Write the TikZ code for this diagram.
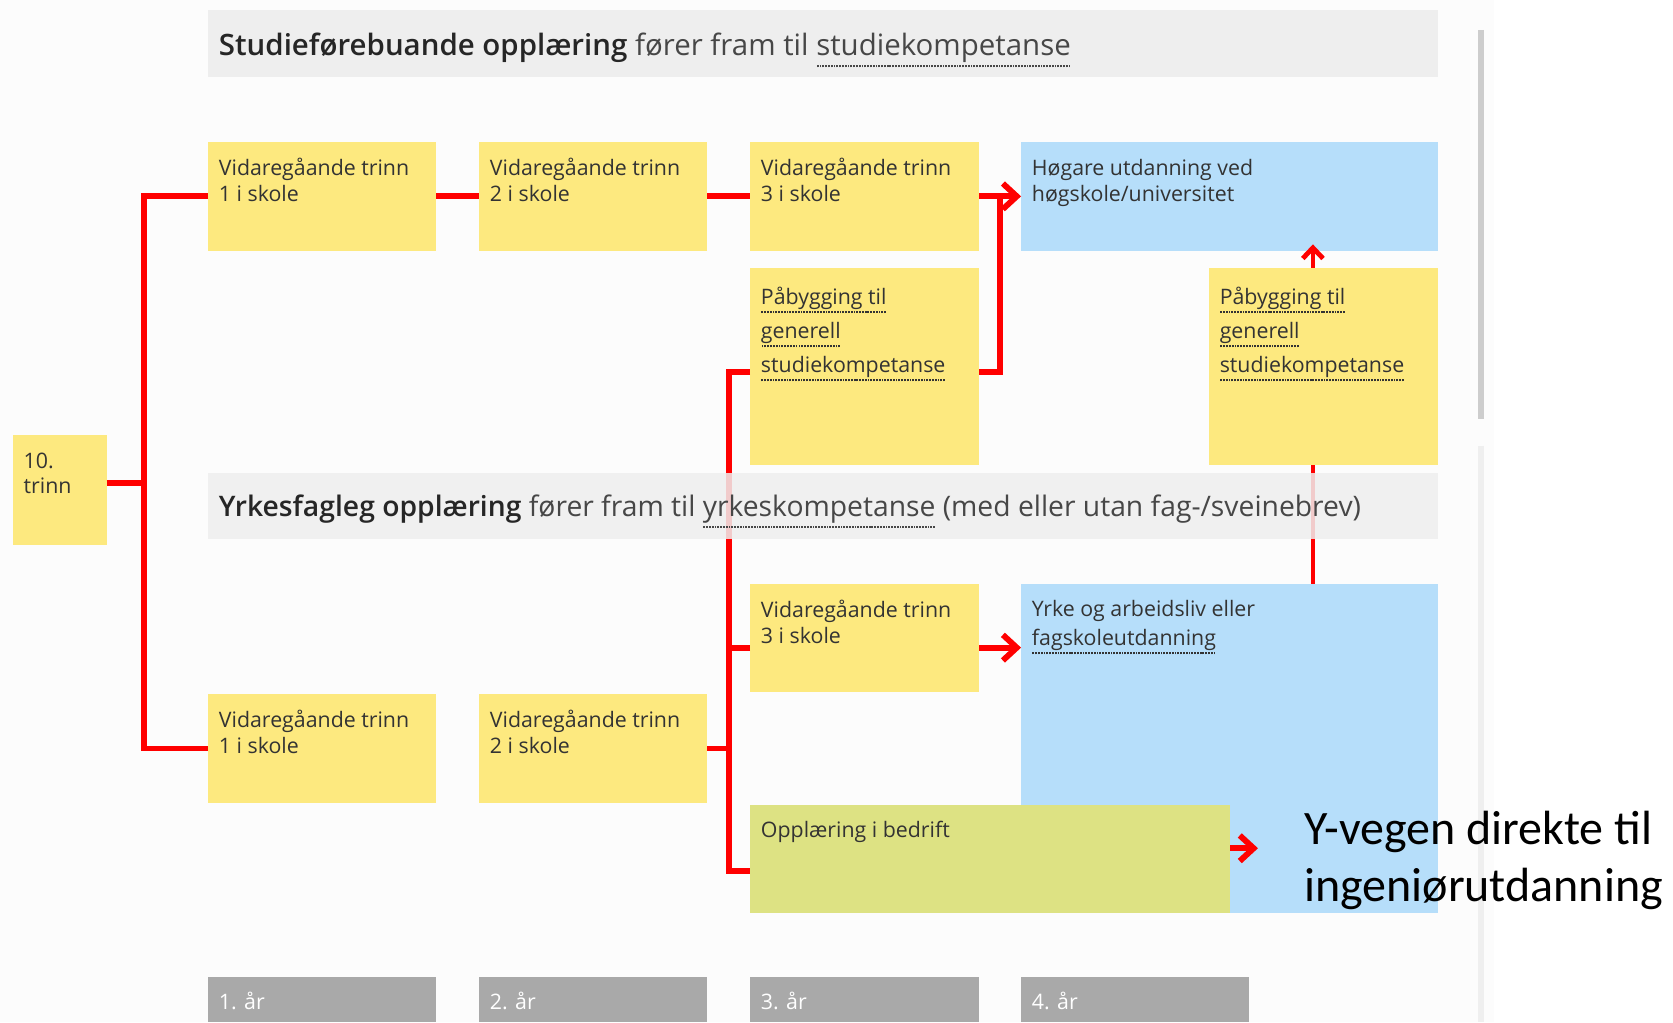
\documentclass[tikz,border=0pt]{standalone}
\usepackage{fontspec}
\setmainfont{Open Sans}
\newfontfamily\calfont{Carlito}
\IfFontExistsTF{Open Sans SemiBold}{\newfontfamily\semib{Open Sans SemiBold}}{%
  \IfFontExistsTF{Open Sans Semibold}{\newfontfamily\semib{Open Sans Semibold}}{\newcommand\semib{\bfseries}}}
\usetikzlibrary{arrows.meta}
\definecolor{ylw}{HTML}{FDE97F}
\definecolor{blu}{HTML}{B6DEFA}
\definecolor{grn}{HTML}{DDE283}
\definecolor{hdrA}{HTML}{EEEEEE}
\definecolor{hdrB}{HTML}{EFEFEF}
\definecolor{barc}{HTML}{A9A9A9}
\definecolor{txt}{HTML}{333333}
\definecolor{redl}{HTML}{FF0000}
\definecolor{sideA}{HTML}{CDCDCD}
\definecolor{sideB}{HTML}{EFEFEF}
\definecolor{bgc}{HTML}{FCFCFC}
\newsavebox\dulbox
\newcommand\dul[1]{\sbox\dulbox{#1}\rlap{\raisebox{-0.4em}{\hbox to \wd\dulbox{\xleaders\hbox to 2.6pt{\hss\rule{1.7pt}{1.9pt}\hss}\hfill}}}\usebox\dulbox}
\tikzset{
  box/.style={anchor=north west, inner sep=0pt, outer sep=0pt, draw=none},
  conn/.style={draw=redl, line width=5.5pt},
  tip/.style={-{Straight Barb[length=13pt,width=24pt]}},
  smalltip/.style={-{Straight Barb[length=10pt,width=19pt]}},
  btxt/.style={anchor=north west, inner sep=0pt, align=left, text=txt, font=\fontsize{20}{24.5}\selectfont},
  ptxt/.style={btxt, font=\fontsize{20}{32}\selectfont},
  yrtxt/.style={anchor=base west, inner sep=0pt, text=white, font=\fontsize{20}{24}\selectfont},
  htxt/.style={anchor=base west, inner sep=0pt, text=txt!90!white, font=\fontsize{27.6}{34}\selectfont},
}
\begin{document}
\begin{tikzpicture}[x=1pt,y=-1pt]
\useasboundingbox (0,0) rectangle (1568,958);
\fill[white] (0,0) rectangle (1568,958);
\fill[bgc] (0,0) rectangle (1400,958);
% side lines
\draw[sideA, line width=5.5pt] (1388,28) -- (1388,393);
\draw[sideB, line width=5.5pt] (1388,418) -- (1388,958);
% header 1
\node[box, fill=hdrA, minimum width=1153pt, minimum height=63pt] (head1) at (195,9) {};
% boxes
\node[box, fill=ylw, minimum width=88pt, minimum height=103pt] (ten) at (12,408) {};
\node[box, fill=ylw, minimum width=214pt, minimum height=102pt] (a1) at (195,133) {};
\node[box, fill=ylw, minimum width=214pt, minimum height=102pt] (a2) at (449,133) {};
\node[box, fill=ylw, minimum width=215pt, minimum height=102pt] (a3) at (703,133) {};
\node[box, fill=blu, minimum width=391pt, minimum height=102pt] (hh) at (957,133) {};
\node[box, fill=ylw, minimum width=215pt, minimum height=185pt] (p1) at (703,251) {};
\node[box, fill=ylw, minimum width=215pt, minimum height=185pt] (p2) at (1133,251) {};
\node[box, fill=ylw, minimum width=215pt, minimum height=102pt] (b3) at (703,547) {};
\node[box, fill=blu, minimum width=391pt, minimum height=309pt] (yy) at (957,547) {};
\node[box, fill=ylw, minimum width=214pt, minimum height=103pt] (b1) at (195,650) {};
\node[box, fill=ylw, minimum width=214pt, minimum height=103pt] (b2) at (449,650) {};
\node[box, fill=grn, minimum width=450pt, minimum height=102pt] (oo) at (703,754) {};
\node[box, fill=barc, minimum width=214pt, minimum height=42pt] (yr1) at (195,916) {};
\node[box, fill=barc, minimum width=214pt, minimum height=42pt] (yr2) at (449,916) {};
\node[box, fill=barc, minimum width=215pt, minimum height=42pt] (yr3) at (703,916) {};
\node[box, fill=barc, minimum width=214pt, minimum height=42pt] (yr4) at (957,916) {};
% connectors
\coordinate (trunk) at (135,453);
\draw[conn] ([yshift=6.5pt]ten.east) -- (trunk);
\draw[conn] (a1.west) -| (trunk) |- (b1.west);
\draw[conn] (a1.east) -- (a2.west);
\draw[conn] (a2.east) -- (a3.west);
\draw[conn,tip] (a3.east) -- (hh.west);
\coordinate (j1) at (937,184);
\draw[conn] ([yshift=-5.5pt]p1.east) -| (j1);
\coordinate (t2a) at (683,349);
\coordinate (t2b) at (683,816);
\draw[conn] ([yshift=-5.5pt]p1.west) -- (t2a) -- (t2b) -- ([yshift=-11pt]oo.west);
\draw[conn] (b2.east) -- (b2.east -| t2a);
\coordinate (b3l) at ([yshift=-9pt]b3.west);
\draw[conn] (b3l) -- (b3l -| t2a);
\coordinate (b3r) at ([yshift=-9pt]b3.east);
\draw[conn,tip] (b3r) -- (b3r -| yy.west);
\coordinate (or) at ([yshift=10pt]oo.east);
\coordinate (oend) at ([xshift=26pt]or);
\draw[conn,tip] (or) -- (oend);
\coordinate (p2n) at ([xshift=-10pt]p2.north);
\coordinate (htip) at (p2n |- hh.south);
\draw[conn, line width=4.5pt, smalltip] (p2n) -- ([yshift=6pt]htip);
\coordinate (ytop) at (p2n |- yy.north);
\coordinate (pbot) at (p2n |- p2.south);
\draw[conn, line width=4pt] (ytop) -- (pbot);
% header 2 (over the lines)
\node[box, fill=hdrB, fill opacity=0.85, minimum width=1153pt, minimum height=62pt] (head2) at (195,443) {};
% texts
\node[htxt] (h1t) at (205,52) {{\semib\color{black!85}Studieførebuande opplæring} fører fram til \dul{studiekompetanse}};
\node[htxt, font=\fontsize{26.5}{33}\selectfont] (h2t) at (205,484) {{\semib\color{black!85}Yrkesfagleg opplæring} fører fram til \dul{yrkeskompetanse} (med eller utan fag-/sveinebrev)};
\node[btxt, font=\fontsize{20}{23.5}\selectfont] (tent) at (22,423) {\rule{0pt}{0.8em}10.\\trinn};
\node[btxt] (a1t) at (205,148) {\rule{0pt}{0.8em}Vidaregåande trinn\\1 i skole};
\node[btxt] (a2t) at (459,148) {\rule{0pt}{0.8em}Vidaregåande trinn\\2 i skole};
\node[btxt] (a3t) at (713,148) {\rule{0pt}{0.8em}Vidaregåande trinn\\3 i skole};
\node[btxt] (hht) at (967,148) {\rule{0pt}{0.8em}Høgare utdanning ved\\høgskole/universitet};
\node[ptxt] (p1t) at (713,269) {\rule{0pt}{0.8em}\dul{Påbygging til}\\\dul{generell}\\\dul{studiekompetanse}};
\node[ptxt] (p2t) at (1143,269) {\rule{0pt}{0.8em}\dul{Påbygging til}\\\dul{generell}\\\dul{studiekompetanse}};
\node[btxt] (b3t) at (713,562) {\rule{0pt}{0.8em}Vidaregåande trinn\\3 i skole};
\node[btxt, font=\fontsize{20}{27}\selectfont] (yyt) at (967,562) {\rule{0pt}{0.8em}Yrke og arbeidsliv eller\\\dul{fagskoleutdanning}};
\node[btxt] (b1t) at (205,665) {\rule{0pt}{0.8em}Vidaregåande trinn\\1 i skole};
\node[btxt] (b2t) at (459,665) {\rule{0pt}{0.8em}Vidaregåande trinn\\2 i skole};
\node[btxt] (oot) at (713,769) {\rule{0pt}{0.8em}Opplæring i bedrift};
\node[yrtxt] (yr1t) at (205,946) {1. år};
\node[yrtxt] (yr2t) at (459,946) {2. år};
\node[yrtxt] (yr3t) at (713,946) {3. år};
\node[yrtxt] (yr4t) at (967,946) {4. år};
\node[anchor=north west, inner sep=0pt, align=left, text=black, font=\calfont\fontsize{45}{54}\selectfont] (yveg) at (1222,755) {\rule{0pt}{0.8em}Y-vegen direkte til\\ingeniørutdanning};
\end{tikzpicture}
\end{document}
